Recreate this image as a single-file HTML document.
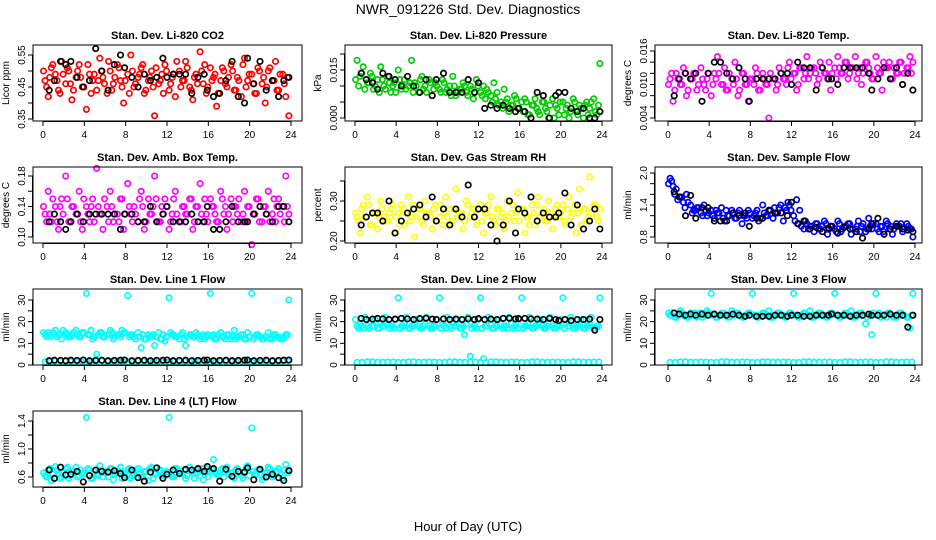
<!DOCTYPE html>
<html><head><meta charset="utf-8">
<style>
html,body{margin:0;padding:0;background:#fff;}
svg{display:block;font-family:"Liberation Sans",sans-serif;}
</style></head>
<body>
<svg id="chart" width="936" height="540" viewBox="0 0 936 540" xmlns="http://www.w3.org/2000/svg">
<text x="468" y="14" text-anchor="middle" font-size="14">NWR_091226  Std. Dev. Diagnostics</text>
<text x="468" y="531" text-anchor="middle" font-size="13">Hour of Day (UTC)</text>
<g id="panels"></g>
</svg>
<script>
// shared hour arrays
const hoursColor = [0.2,0.5,0.8,1.2,1.5,1.8,2.2,2.5,2.8,3.2,3.5,3.8,4.2,4.5,4.8,5.2,5.5,5.8,6.2,6.5,6.8,7.2,7.5,7.8,8.2,8.5,8.8,9.2,9.5,9.8,10.2,10.5,10.8,11.2,11.5,11.8,12.2,12.5,12.8,13.2,13.5,13.8,14.2,14.5,14.8,15.2,15.5,15.8,16.2,16.5,16.8,17.2,17.5,17.8,18.2,18.5,18.8,19.2,19.5,19.8,20.2,20.5,20.8,21.2,21.5,21.8,22.2,22.5,22.8,23.2,23.5,23.8];
const hoursColor2 = [0.05,0.35,0.65,0.95,1.35,1.65,1.95,2.35,2.65,2.95,3.35,3.65,3.95,4.35,4.65,4.95,5.35,5.65,5.95,6.35,6.65,6.95,7.35,7.65,7.95,8.35,8.65,8.95,9.35,9.65,9.95,10.35,10.65,10.95,11.35,11.65,11.95,12.35,12.65,12.95,13.35,13.65,13.95,14.35,14.65,14.95,15.35,15.65,15.95,16.35,16.65,16.95,17.35,17.65,17.95,18.35,18.65,18.95,19.35,19.65,19.95,20.35,20.65,20.95,21.35,21.65,21.95,22.35,22.65,22.95,23.35,23.65];
const hoursBlack = [0.6,1.1,1.7,2.2,2.7,3.3,3.9,4.5,5.1,5.7,6.3,6.9,7.5,7.9,8.6,9.2,9.8,10.4,11.0,11.6,12.0,12.6,13.2,13.8,14.4,15.0,15.6,15.9,16.5,17.1,17.7,18.3,18.9,19.5,19.8,20.4,21.0,21.6,22.2,22.8,23.3,23.8];
const hoursLow = [0.2,1.2,2.2,3.2,4.2,5.2,6.2,7.2,8.2,9.2,10.2,11.2,12.2,13.2,14.2,15.2,16.2,17.2,18.2,19.2,20.2,21.2,22.2,23.2];
const hoursLow2 = [0.7,1.7,2.7,3.7,4.7,5.7,6.7,7.7,8.7,9.7,10.7,11.7,12.7,13.7,14.7,15.7,16.7,17.7,18.7,19.7,20.7,21.7,22.7,23.7];
const xTicks = [0,4,8,12,16,20,24];

const co2Color = [0.47,0.42,0.51,0.49,0.44,0.53,0.46,0.50,0.41,0.48,0.52,0.45,0.38,0.49,0.47,0.44,0.54,0.48,0.43,0.50,0.46,0.52,0.47,0.40,0.49,0.55,0.45,0.48,0.51,0.43,0.47,0.50,0.36,0.46,0.49,0.52,0.44,0.48,0.42,0.50,0.47,0.53,0.45,0.41,0.49,0.56,0.46,0.43,0.51,0.48,0.39,0.47,0.50,0.45,0.52,0.44,0.48,0.42,0.54,0.47,0.49,0.43,0.51,0.46,0.40,0.50,0.47,0.53,0.44,0.49,0.42,0.36];
const co2Color2 = [0.50,0.45,0.48,0.52,0.47,0.43,0.49,0.51,0.46,0.44,0.50,0.48,0.45,0.52,0.43,0.49,0.47,0.50,0.46,0.53,0.44,0.48,0.51,0.45,0.47,0.43,0.50,0.46,0.49,0.52,0.44,0.48,0.45,0.51,0.47,0.43,0.50,0.46,0.49,0.53,0.45,0.47,0.51,0.44,0.48,0.46,0.50,0.52,0.45,0.47,0.49,0.43,0.51,0.46,0.48,0.50,0.44,0.47,0.52,0.45,0.49,0.46,0.43,0.50,0.48,0.45,0.51,0.47,0.44,0.49,0.46,0.48];
const co2Black = [0.44,0.47,0.53,0.52,0.53,0.48,0.45,0.47,0.57,0.50,0.44,0.52,0.55,0.51,0.48,0.45,0.49,0.47,0.48,0.54,0.48,0.49,0.49,0.49,0.43,0.48,0.49,0.44,0.42,0.43,0.47,0.53,0.42,0.40,0.54,0.46,0.53,0.44,0.47,0.42,0.47,0.48];
const presColor = [0.018,0.013,0.016,0.011,0.014,0.009,0.012,0.016,0.010,0.013,0.008,0.011,0.015,0.009,0.012,0.010,0.018,0.011,0.008,0.013,0.010,0.012,0.007,0.011,0.009,0.012,0.008,0.010,0.013,0.007,0.009,0.011,0.008,0.010,0.006,0.012,0.008,0.010,0.009,0.007,0.011,0.008,0.005,0.009,0.006,0.004,0.007,0.003,0.005,0.006,0.001,0.004,0.006,0.002,0.005,0.003,0.000,0.006,0.004,0.001,0.005,0.003,0.000,0.006,0.002,0.004,0.000,0.005,0.003,0.006,0.001,0.017];
const presColor2 = [0.012,0.010,0.014,0.009,0.011,0.013,0.010,0.008,0.012,0.009,0.011,0.010,0.008,0.012,0.010,0.009,0.011,0.008,0.010,0.012,0.009,0.008,0.011,0.009,0.010,0.008,0.011,0.009,0.007,0.010,0.008,0.009,0.010,0.007,0.009,0.008,0.010,0.007,0.006,0.008,0.005,0.006,0.004,0.003,0.005,0.002,0.004,0.006,0.003,0.002,0.005,0.001,0.004,0.003,0.001,0.005,0.002,0.004,0.000,0.003,0.005,0.001,0.004,0.002,0.005,0.001,0.003,0.004,0.001,0.005,0.002,0.004];
const presBlack = [0.014,0.012,0.011,0.009,0.014,0.013,0.012,0.010,0.013,0.010,0.008,0.012,0.007,0.012,0.014,0.008,0.008,0.008,0.012,0.008,0.011,0.003,0.004,0.003,0.004,0.003,0.002,0.003,0.002,0.000,0.008,0.007,0.000,0.007,0.008,0.008,0.003,0.002,0.003,0.000,0.000,0.002];
const tempColor = [0.011,0.007,0.012,0.010,0.013,0.008,0.011,0.012,0.009,0.013,0.010,0.011,0.008,0.012,0.015,0.010,0.013,0.009,0.011,0.014,0.008,0.012,0.010,0.007,0.011,0.013,0.009,0.012,0.010,0.004,0.011,0.009,0.013,0.011,0.010,0.014,0.012,0.009,0.013,0.011,0.015,0.012,0.013,0.010,0.014,0.012,0.011,0.009,0.013,0.015,0.012,0.014,0.011,0.013,0.015,0.012,0.010,0.014,0.013,0.011,0.015,0.012,0.009,0.013,0.014,0.011,0.012,0.014,0.010,0.013,0.015,0.014];
const tempColor2 = [0.010,0.012,0.009,0.011,0.010,0.012,0.009,0.011,0.012,0.010,0.011,0.009,0.012,0.010,0.011,0.012,0.010,0.009,0.012,0.010,0.011,0.009,0.012,0.010,0.011,0.010,0.012,0.009,0.011,0.010,0.012,0.011,0.010,0.012,0.011,0.013,0.011,0.012,0.010,0.013,0.012,0.011,0.013,0.012,0.011,0.013,0.012,0.014,0.012,0.011,0.013,0.012,0.014,0.012,0.013,0.011,0.013,0.012,0.014,0.012,0.011,0.013,0.012,0.014,0.013,0.011,0.013,0.012,0.014,0.012,0.013,0.012];
const tempBlack = [0.008,0.011,0.012,0.011,0.012,0.007,0.012,0.014,0.014,0.012,0.011,0.013,0.011,0.007,0.011,0.011,0.011,0.011,0.012,0.012,0.010,0.014,0.013,0.013,0.009,0.013,0.011,0.011,0.010,0.013,0.013,0.013,0.013,0.012,0.009,0.011,0.013,0.011,0.013,0.010,0.012,0.009];
const ambColor = [0.13,0.16,0.12,0.14,0.11,0.15,0.18,0.12,0.14,0.13,0.16,0.11,0.14,0.12,0.15,0.19,0.13,0.11,0.14,0.16,0.12,0.13,0.15,0.11,0.17,0.13,0.14,0.12,0.16,0.11,0.15,0.13,0.18,0.12,0.14,0.15,0.11,0.13,0.16,0.12,0.14,0.13,0.15,0.11,0.14,0.17,0.12,0.13,0.15,0.14,0.12,0.16,0.13,0.11,0.15,0.14,0.13,0.12,0.16,0.14,0.09,0.13,0.15,0.12,0.14,0.16,0.13,0.12,0.15,0.14,0.18,0.13];
const ambColor2 = [0.14,0.12,0.13,0.15,0.12,0.14,0.13,0.15,0.12,0.14,0.13,0.12,0.15,0.13,0.14,0.12,0.14,0.13,0.15,0.12,0.14,0.13,0.12,0.15,0.13,0.14,0.12,0.13,0.15,0.14,0.12,0.13,0.14,0.15,0.12,0.13,0.14,0.12,0.15,0.13,0.12,0.14,0.13,0.15,0.12,0.14,0.13,0.15,0.12,0.14,0.13,0.12,0.15,0.14,0.13,0.12,0.14,0.15,0.13,0.12,0.14,0.13,0.15,0.12,0.14,0.13,0.12,0.15,0.14,0.13,0.12,0.14];
const ambBlack = [0.12,0.13,0.12,0.11,0.12,0.13,0.12,0.13,0.13,0.13,0.13,0.13,0.11,0.13,0.13,0.12,0.12,0.14,0.12,0.13,0.14,0.12,0.12,0.12,0.13,0.12,0.12,0.14,0.11,0.11,0.12,0.14,0.12,0.12,0.12,0.13,0.14,0.13,0.12,0.14,0.14,0.12];
const rhColor = [0.26,0.22,0.29,0.31,0.24,0.27,0.23,0.30,0.26,0.25,0.28,0.22,0.27,0.29,0.24,0.31,0.26,0.21,0.28,0.25,0.30,0.27,0.23,0.29,0.26,0.24,0.31,0.28,0.25,0.33,0.27,0.23,0.30,0.26,0.28,0.24,0.29,0.22,0.27,0.31,0.25,0.28,0.26,0.23,0.30,0.27,0.25,0.32,0.28,0.22,0.26,0.29,0.24,0.31,0.27,0.25,0.30,0.23,0.28,0.26,0.29,0.24,0.31,0.27,0.22,0.33,0.28,0.25,0.36,0.29,0.26,0.28];
const rhColor2 = [0.27,0.25,0.28,0.26,0.29,0.24,0.27,0.26,0.28,0.25,0.27,0.29,0.26,0.24,0.28,0.27,0.25,0.29,0.26,0.28,0.24,0.27,0.26,0.28,0.25,0.29,0.27,0.26,0.24,0.28,0.26,0.27,0.25,0.29,0.27,0.26,0.28,0.25,0.27,0.29,0.26,0.24,0.28,0.27,0.25,0.26,0.29,0.27,0.25,0.28,0.26,0.24,0.27,0.29,0.26,0.28,0.25,0.27,0.26,0.29,0.27,0.25,0.28,0.26,0.29,0.27,0.24,0.28,0.26,0.27,0.29,0.25];
const rhBlack = [0.24,0.26,0.27,0.27,0.25,0.30,0.22,0.25,0.27,0.28,0.29,0.26,0.31,0.25,0.28,0.24,0.28,0.26,0.34,0.26,0.28,0.28,0.24,0.20,0.24,0.30,0.22,0.28,0.27,0.31,0.25,0.27,0.26,0.26,0.27,0.32,0.24,0.29,0.23,0.25,0.28,0.23];
const flowColor = [1.90,1.75,1.70,1.55,1.45,1.60,1.40,1.30,1.35,1.25,1.40,1.20,1.30,1.15,1.25,1.35,1.10,1.20,1.30,1.15,1.25,1.05,1.20,1.30,1.15,1.25,1.10,1.40,1.20,1.30,1.15,1.25,1.35,1.10,1.30,1.40,1.20,1.50,1.30,0.95,1.05,1.00,0.90,1.05,0.95,1.10,0.85,1.00,0.95,1.10,0.90,1.00,1.05,0.85,0.95,1.10,1.00,0.90,1.15,0.95,1.05,0.90,1.00,1.10,0.95,0.85,1.05,1.00,0.90,1.05,0.95,0.80];
const flowColor2 = [1.80,1.85,1.60,1.50,1.55,1.35,1.45,1.25,1.30,1.35,1.20,1.30,1.25,1.20,1.30,1.25,1.15,1.30,1.20,1.25,1.15,1.30,1.20,1.15,1.25,1.20,1.30,1.15,1.25,1.20,1.30,1.35,1.25,1.40,1.35,1.45,1.30,1.10,1.05,1.00,1.10,0.95,1.00,1.05,0.95,1.00,1.05,0.95,1.00,0.90,1.05,0.95,1.00,1.05,0.95,1.00,0.90,1.05,0.95,1.00,1.05,0.95,1.00,0.90,1.05,1.00,0.95,1.00,1.05,0.95,1.00,0.95];
const flowBlack = [1.65,1.55,1.20,1.58,1.15,1.35,1.35,1.10,1.10,1.10,1.25,1.20,1.25,1.00,1.15,1.15,1.30,1.25,1.25,1.20,1.45,1.05,1.10,0.95,0.98,0.90,0.97,1.00,0.87,0.98,0.95,0.90,0.78,0.95,1.05,1.15,0.85,0.95,1.00,0.95,0.93,0.90];
const line1Color = [14,15,13,16,14,12,15,13,14,16,13,15,33,14,12,5,15,13,14,16,12,14,13,15,32,14,13,15,8,12,14,13,9,15,12,11,31,14,13,12,15,9,14,13,15,12,14,13,33,14,12,15,13,14,12,16,13,14,12,15,33,13,14,12,13,15,12,14,13,12,14,30];
const line1Color2 = [15,13,14,15,13,14,16,14,13,15,14,13,15,14,16,13,14,15,13,14,15,13,14,16,15,13,14,12,13,14,12,13,14,13,12,14,13,15,14,13,14,12,13,14,13,14,13,12,14,13,12,14,13,12,14,13,12,13,14,12,13,12,14,13,12,13,12,14,13,12,13,14];
const line1Low = [1.5,1.8,1.6,1.7,1.5,1.9,1.6,1.8,1.5,1.7,1.6,1.8,1.5,1.7,1.6,1.8,1.5,1.7,1.6,1.8,1.5,1.7,1.6,1.8];
const line1Black = [2.0,2.2,2.1,2.0,2.2,2.1,2.3,2.0,2.1,2.2,2.0,2.1,2.2,2.3,2.0,2.1,2.2,2.0,2.1,2.2,2.3,2.0,2.1,2.2,2.0,2.1,2.2,2.3,2.0,2.1,2.2,2.0,2.1,2.2,2.3,2.0,2.1,2.2,2.0,2.1,2.2,2.3];
const line2Color = [18,19,17,18,20,18,17,19,18,19,18,17,31,18,19,17,18,19,18,17,19,18,17,18,31,19,17,18,19,18,17,18,19,4,18,17,31,3,18,19,17,18,19,18,17,19,18,17,31,18,19,17,18,19,18,17,19,18,17,18,31,19,18,17,18,19,17,18,19,17,18,31];
const line2Color2 = [21,17,18,22,17,18,21,17,18,22,17,18,21,17,18,22,17,18,21,17,18,22,17,18,21,17,18,22,17,18,21,17,14,22,17,18,21,17,18,22,17,18,21,17,18,22,17,18,21,17,18,22,17,18,21,17,18,22,17,18,21,17,18,22,17,18,21,17,18,22,17,18];
const line2Low = [1.2,1.5,1.3,1.4,1.2,1.5,1.3,1.4,1.2,1.5,1.3,1.4,1.2,1.5,1.3,1.4,1.2,1.5,1.3,1.4,1.2,1.5,1.3,1.4];
const line2Black = [21.5,21.0,21.2,21.5,21.3,21.0,21.2,21.5,21.3,21.0,21.4,21.6,21.2,21.0,21.3,21.0,21.2,21.0,21.3,21.0,21.4,21.0,21.2,21.0,21.5,21.6,21.3,21.4,21.5,21.3,21.2,21.0,21.5,21.0,20.5,21.0,20.5,21.0,21.0,21.2,16.0,21.0];
const line3Color = [23,24,22,25,23,22,24,23,22,24,23,25,33,23,22,24,23,22,25,23,24,22,23,24,33,23,22,24,23,25,22,23,24,23,22,24,33,23,22,24,23,25,22,23,24,23,22,24,33,23,22,24,23,25,22,23,24,19,23,14,33,24,23,22,24,23,22,24,23,22,17,33];
const line3Color2 = [24,23,22,23,24,23,22,23,24,23,22,23,24,23,22,23,24,23,22,23,24,23,22,23,24,23,22,23,24,23,22,23,24,23,22,23,24,23,22,23,24,23,22,23,24,23,22,23,24,23,22,23,24,23,22,23,24,23,22,23,24,23,22,23,24,23,22,23,24,23,22,23];
const line3Low = [1.2,1.5,1.3,1.4,1.2,1.5,1.3,1.4,1.2,1.5,1.3,1.4,1.2,1.5,1.3,1.4,1.2,1.5,1.3,1.4,1.2,1.5,1.3,1.4];
const line3Black = [24.0,23.5,23.0,23.5,23.0,23.5,23.0,23.5,23.0,23.0,23.5,23.0,22.5,23.0,22.5,22.5,22.5,23.0,23.0,22.5,23.0,23.0,22.5,22.5,23.0,23.0,23.0,23.5,23.0,23.0,22.5,23.0,23.0,23.5,23.0,23.0,23.0,23.5,23.0,23.0,17.5,23.0];
const line4Color = [0.62,0.70,0.55,0.75,0.65,0.60,0.72,0.58,0.68,0.74,0.62,0.66,1.45,0.70,0.58,0.64,0.76,0.60,0.68,0.72,0.56,0.66,0.74,0.62,0.70,0.58,0.66,0.72,0.60,0.68,0.55,0.74,0.64,0.70,0.62,0.66,1.45,0.60,0.72,0.68,0.64,0.58,0.74,0.66,0.70,0.62,0.56,0.72,0.68,0.85,0.64,0.70,0.60,0.74,0.66,0.58,0.72,0.62,0.68,0.76,1.30,0.64,0.70,0.56,0.66,0.74,0.60,0.68,0.72,0.58,0.78,0.70];
const line4Color2 = [0.66,0.60,0.72,0.64,0.70,0.58,0.66,0.74,0.62,0.68,0.60,0.70,0.64,0.72,0.58,0.68,0.62,0.70,0.66,0.60,0.72,0.64,0.68,0.58,0.66,0.72,0.62,0.70,0.64,0.60,0.68,0.72,0.58,0.66,0.70,0.62,0.68,0.64,0.60,0.72,0.66,0.70,0.62,0.68,0.58,0.66,0.72,0.64,0.60,0.70,0.66,0.62,0.72,0.68,0.64,0.60,0.70,0.66,0.58,0.72,0.62,0.68,0.64,0.70,0.60,0.66,0.72,0.62,0.68,0.64,0.70,0.66];
const line4Black = [0.70,0.58,0.74,0.63,0.64,0.68,0.53,0.62,0.70,0.68,0.67,0.69,0.65,0.59,0.70,0.59,0.54,0.67,0.73,0.58,0.64,0.70,0.65,0.71,0.70,0.72,0.68,0.75,0.72,0.54,0.71,0.61,0.68,0.67,0.73,0.56,0.71,0.60,0.64,0.59,0.55,0.69];

const cols = [{bl:33,br:302,x0:43,x24:291},{bl:345,br:612,x0:355,x24:602},{bl:655,br:922,x0:668,x24:915}];
const rows = [45,167,289,411];
const panels = [
 {name:'co2',title:'Stan. Dev. Li-820 CO2',ylab:'Licor ppm',c:0,r:0,color:'#ff0000',col:co2Color,col2:co2Color2,blk:co2Black,v1:0.35,p1:74,v2:0.55,p2:10,ticks:[0.35,0.40,0.45,0.50,0.55],labels:['0.35','0.45','0.55'],lv:[0.35,0.45,0.55]},
 {name:'pressure',title:'Stan. Dev. Li-820 Pressure',ylab:'kPa',c:1,r:0,color:'#00cd00',col:presColor,col2:presColor2,blk:presBlack,v1:0,p1:73,v2:0.015,p2:25,ticks:[0,0.005,0.010,0.015,0.020],labels:['0.000','0.015'],lv:[0,0.015]},
 {name:'temp',title:'Stan. Dev. Li-820 Temp.',ylab:'degrees C',c:2,r:0,color:'#ff00ff',col:tempColor,col2:tempColor2,blk:tempBlack,v1:0.004,p1:73,v2:0.016,p2:6,ticks:[0.004,0.006,0.008,0.010,0.012,0.014,0.016],labels:['0.004','0.010','0.016'],lv:[0.004,0.010,0.016]},
 {name:'amb-box-temp',title:'Stan. Dev. Amb. Box Temp.',ylab:'degrees C',c:0,r:1,color:'#ff00ff',col:ambColor,col2:ambColor2,blk:ambBlack,v1:0.10,p1:70,v2:0.18,p2:9,ticks:[0.10,0.12,0.14,0.16,0.18],labels:['0.10','0.14','0.18'],lv:[0.10,0.14,0.18]},
 {name:'gas-rh',title:'Stan. Dev. Gas Stream RH',ylab:'percent',c:1,r:1,color:'#ffff00',col:rhColor,col2:rhColor2,blk:rhBlack,v1:0.20,p1:74,v2:0.30,p2:34,ticks:[0.20,0.25,0.30,0.35],labels:['0.20','0.30'],lv:[0.20,0.30]},
 {name:'sample-flow',title:'Stan. Dev. Sample Flow',ylab:'ml/min',c:2,r:1,color:'#0000ff',col:flowColor,col2:flowColor2,blk:flowBlack,v1:0.8,p1:70,v2:2.0,p2:6,ticks:[0.8,1.0,1.2,1.4,1.6,1.8,2.0],labels:['0.8','1.4','2.0'],lv:[0.8,1.4,2.0]},
 {name:'line1-flow',title:'Stan. Dev. Line 1 Flow',ylab:'ml/min',c:0,r:2,color:'#00ffff',col:line1Color,col2:line1Color2,low:line1Low,blk:line1Black,v1:0,p1:76,v2:30,p2:11,ticks:[0,5,10,15,20,25,30],labels:['0','10','20','30'],lv:[0,10,20,30]},
 {name:'line2-flow',title:'Stan. Dev. Line 2 Flow',ylab:'ml/min',c:1,r:2,color:'#00ffff',col:line2Color,col2:line2Color2,low:line2Low,blk:line2Black,v1:0,p1:76,v2:30,p2:11,ticks:[0,5,10,15,20,25,30],labels:['0','10','20','30'],lv:[0,10,20,30]},
 {name:'line3-flow',title:'Stan. Dev. Line 3 Flow',ylab:'ml/min',c:2,r:2,color:'#00ffff',col:line3Color,col2:line3Color2,low:line3Low,blk:line3Black,v1:0,p1:76,v2:30,p2:11,ticks:[0,5,10,15,20,25,30],labels:['0','10','20','30'],lv:[0,10,20,30]},
 {name:'line4-flow',title:'Stan. Dev. Line 4 (LT) Flow',ylab:'ml/min',c:0,r:3,color:'#00ffff',col:line4Color,col2:line4Color2,blk:line4Black,v1:0.6,p1:66,v2:1.4,p2:10,ticks:[0.6,0.8,1.0,1.2,1.4],labels:['0.6','1.0','1.4'],lv:[0.6,1.0,1.4]}
];
const NS='http://www.w3.org/2000/svg';
const root=document.getElementById('panels');
function mk(tag,attrs,parent){const e=document.createElementNS(NS,tag);for(const k in attrs)e.setAttribute(k,attrs[k]);parent.appendChild(e);return e;}
panels.forEach(p=>{
  const C=cols[p.c], top=rows[p.r], bot=top+76;
  const xs=h=>C.x0+(C.x24-C.x0)*h/24;
  const ys=v=>top+p.p1+(v-p.v1)*(p.p2-p.p1)/(p.v2-p.v1);
  const g=mk('g',{},root);
  
  
  const t=mk('text',{x:(C.bl+C.br)/2,y:top-6,'text-anchor':'middle','font-size':'11','font-weight':'bold'},g);
  t.textContent=p.title;
  
  
  const yl=mk('text',{x:0,y:0,'text-anchor':'middle','font-size':'10',transform:`translate(${C.bl-24},${top+38}) rotate(-90)`},g);
  yl.textContent=p.ylab;
  
  
  const pts=mk('g',{fill:'none','stroke-width':'1.7'},g);
  
  
  const drawSet=(hs,vals,color,nm)=>{vals.forEach((v,i)=>{
    const c=mk('circle',{cx:xs(hs[i]).toFixed(1),cy:ys(v).toFixed(1),r:'2.7',stroke:color},pts);
    
    
  });};
  if(p.low){ drawSet(hoursLow,p.low,p.color,'low-point'); drawSet(hoursLow2,p.low,p.color,'low-point'); }
  drawSet(hoursColor2,p.col2,p.color,'hourly-point');
  drawSet(hoursColor,p.col,p.color,'hourly-point');
  drawSet(hoursBlack,p.blk,'#000','mean-point');
  const box=mk('rect',{x:C.bl,y:top,width:C.br-C.bl,height:76,fill:'none',stroke:'#000','stroke-width':'1'},g);
  
  
  const ax=mk('g',{stroke:'#000','stroke-width':'1'},g);
  
  
  mk('line',{x1:C.x0,x2:C.x24,y1:bot+0.5,y2:bot+0.5},ax);
  xTicks.forEach(h=>{mk('line',{x1:xs(h),x2:xs(h),y1:bot,y2:bot+5},ax);
    const tl=mk('text',{x:xs(h),y:bot+17,'text-anchor':'middle','font-size':'10',stroke:'none',fill:'#000'},g);
    tl.textContent=h;
    
    });
  mk('line',{x1:C.bl-0.5,x2:C.bl-0.5,y1:ys(p.ticks[0]),y2:ys(p.ticks[p.ticks.length-1])},ax);
  p.ticks.forEach(v=>mk('line',{x1:C.bl-5,x2:C.bl,y1:ys(v),y2:ys(v)},ax));
  p.labels.forEach((s,i)=>{
    const tl=mk('text',{x:0,y:0,'text-anchor':'middle','font-size':'10',transform:`translate(${C.bl-8},${ys(p.lv[i])}) rotate(-90)`},g);
    tl.textContent=s;
    
    
  });
});
</script>
</body></html>
